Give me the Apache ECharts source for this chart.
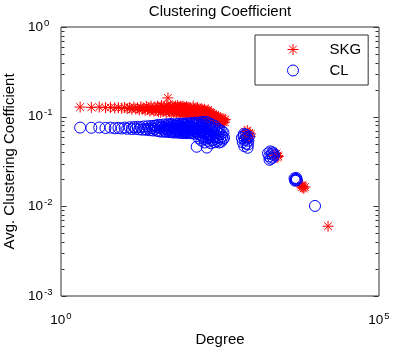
<!DOCTYPE html>
<html>
<head>
<meta charset="utf-8">
<script src="https://cdn.jsdelivr.net/npm/echarts@6/dist/echarts.min.js"></script>
<style>html,body{margin:0;padding:0;background:#fff;}#c{width:419px;height:349px;}</style>
</head>
<body>
<div id="c"></div>
<script>
// ---- data ----
const skgX = [2,3,4,5,6,7,8,9,10,11,12,13,14,15,16,17,18,19,20,21,22,23,24,25,26,27,28,29,
  30,31,32,33,34,35,36,37,38,39,40,41,42,43,44,45,46,47,48,49,50,51,52,53,54,55,56,57,58,59,60,
  61,62,63,64,65,66,67,68,69,70,71,72,73,74,75,76,77,78,79,80,81,82,83,84,85,86,87,88,89,90,
  91,92,93,94,95,96,97,98,99,100,
  102,104,106,108,110,112,114,116,118,120,122,124,126,128,130,132,134,136,138,140,142,144,146,148,150,
  152,154,156,158,160,162,164,166,168,170,172,174,176,178,180,182,184,186,188,190,192,194,196,198,200,
  203,206,209,212,215,218,221,224,227,230,234,238,242,246,250,254,258,262,266,270,275,280,285,290,295,
  300,306,312,318,324,330,337,344,351,358,366,374,382,
  780,820,850,880,910,940,800,960,870,
  2150,2450,2550,2600,2500,
  5940,6150,6380,6550,6860,6250,
  15800];
const skgY = [.128,.127,.128,.126,.127,.125,.126,.124,.127,.123,.126,.121,.128,.122,.125,.119,.129,.121,.124,.118,.130,.120,.126,.116,.131,.119,.124,.115,
  .128,.117,.124,.131,.114,.121,.127,.112,.133,.119,.125,.115,.130,.118,.122,.111,.134,.120,.162,.116,.127,.113,.123,.129,.110,.121,.132,.117,.125,.112,.128,
  .119,.114,.131,.122,.110,.126,.118,.133,.113,.120,.127,.109,.124,.116,.130,.111,.121,.128,.114,.119,.125,.108,.131,.117,.122,.112,.127,.115,.120,.109,
  .126,.118,.113,.129,.110,.121,.124,.107,.116,.127,
  .112,.120,.106,.125,.115,.109,.122,.104,.117,.131,.110,.119,.103,.124,.113,.107,.121,.102,.116,.126,.108,.114,.101,.122,.111,
  .105,.118,.100,.113,.123,.106,.115,.099,.119,.109,.103,.116,.098,.111,.121,.104,.113,.097,.108,.117,.101,.110,.096,.106,.114,
  .100,.119,.094,.108,.099,.113,.092,.104,.097,.110,.091,.102,.095,.107,.089,.099,.093,.104,.088,.097,.092,.101,.087,.096,.090,
  .099,.086,.094,.089,.097,.085,.092,.088,.095,.086,.091,.087,.093,
  .068,.064,.070,.062,.066,.060,.058,.064,.057,
  .037,.039,.037,.036,.035,
  .0170,.0163,.0166,.0159,.0164,.0172,
  .0060];
const clX = [2,3,4,5,6,7,8,9,10,11,12,13,14,15,16,17,18,19,20,21,22,23,24,25,26,27,28,29,
  30,31,32,33,34,35,36,37,38,39,40,41,42,43,44,45,46,47,48,49,50,51,52,53,54,55,56,57,58,59,60,
  61,62,63,64,65,66,67,68,69,70,71,72,73,74,75,76,77,78,79,80,81,82,83,84,85,86,87,88,89,90,
  91,92,93,94,95,96,97,98,99,100,
  102,104,106,108,110,112,114,116,118,120,122,124,126,128,130,132,134,136,138,140,142,144,146,148,150,
  152,154,156,158,160,162,164,166,168,170,172,174,176,178,180,182,184,186,188,190,192,194,196,198,200,
  203,206,209,212,215,218,221,224,227,230,234,238,242,246,250,254,258,262,266,270,275,280,285,290,295,
  300,306,312,318,324,330,337,344,351,358,366,
  700,720,740,760,780,800,820,840,860,880,900,750,830,870,
  1800,1880,1950,2000,2050,2100,2150,2250,1900,2200,
  4700,4850,4950,5100,5000,4800,
  9860];
const clY = [.0755,.0752,.0757,.0748,.0754,.0742,.0750,.0738,.0756,.0733,.0761,.0728,.0766,.0731,.0771,.0722,.0764,.0716,.0777,.0725,.0713,.0781,.0735,.0706,.0786,.0744,.0701,.0790,
  .0729,.0795,.0697,.0760,.0812,.0688,.0748,.0803,.0680,.0770,.0722,.0818,.0692,.0755,.0676,.0798,.0735,.0825,.0684,.0762,.0710,.0808,.0671,.0745,.0830,.0699,.0778,.0667,.0815,.0728,.0690,
  .0787,.0752,.0664,.0822,.0716,.0795,.0678,.0740,.0835,.0694,.0769,.0661,.0806,.0725,.0683,.0790,.0747,.0658,.0827,.0706,.0772,.0670,.0840,.0733,.0687,.0800,.0656,.0758,.0820,.0696,
  .0741,.0662,.0812,.0720,.0783,.0673,.0845,.0702,.0766,.0654,
  .0745,.0820,.0668,.0790,.0712,.0850,.0652,.0770,.0728,.0835,.0685,.0756,.0648,.0810,.0700,.0858,.0735,.0462,.0662,.0795,.0718,.0842,.0640,.0570,.0765,
  .0690,.0865,.0625,.0748,.0815,.0540,.0676,.0782,.0612,.0870,.0705,.0588,.0760,.0650,.0848,.0515,.0726,.0600,.0805,.0668,.0555,.0875,.0452,.0738,.0630,
  .0790,.0575,.0695,.0528,.0842,.0640,.0598,.0760,.0505,.0710,.0622,.0815,.0548,.0676,.0590,.0745,.0520,.0658,.0785,.0565,.0700,.0610,.0535,.0730,.0585,
  .0660,.0515,.0705,.0570,.0640,.0525,.0690,.0600,.0555,.0665,.0580,
  .058,.052,.061,.047,.055,.063,.050,.057,.045,.054,.060,.064,.059,.049,
  .039,.036,.041,.034,.038,.040,.035,.037,.033,.039,
  .0205,.0198,.0202,.0196,.0207,.0193,
  .0101];
const xTickExps = [0, 5];          // labelled decades on x
const yTickExps = [-3, -2, -1, 0]; // labelled decades on y
const xRange = [1, 100000];
const yRange = [0.001, 1];

// ---- build ----
const skgData = skgX.map((x, i) => [x, skgY[i]]);
const clData = clX.map((x, i) => [x, clY[i]]);
const tickData = [];
yTickExps.forEach(e => {
  tickData.push([xRange[0], Math.pow(10, e), 1]);
  if (e < 0) for (let m = 2; m <= 9; m++) tickData.push([xRange[0], m * Math.pow(10, e), 0]);
});
const FONT = '"Liberation Sans", Arial, Helvetica, sans-serif';
const starPath = 'path://M5 0L5 10M0 5L10 5M1.5 1.5L8.5 8.5M1.5 8.5L8.5 1.5';
const expLabel = v => '{b|10}{s|' + Math.round(Math.log10(v)) + '}';
const rich = {
  b: { fontSize: 13.5, lineHeight: 18, fontFamily: FONT, color: '#000' },
  s: { fontSize: 9.5, lineHeight: 4, verticalAlign: 'top', fontFamily: FONT, color: '#000', padding: [0, 0, 0, 1] }
};

const chart = echarts.init(document.getElementById('c'), null, { renderer: 'canvas' });
chart.setOption({
  animation: false,
  backgroundColor: '#fff',
  title: {
    text: 'Clustering Coefficient', left: 220, top: 4, textAlign: 'center', padding: 0,
    textStyle: { fontSize: 15, fontWeight: 'normal', color: '#000', fontFamily: FONT }
  },
  grid: {
    left: 61, right: 40, top: 27, bottom: 53, outerBoundsMode: 'none', containLabel: false,
    show: true, borderColor: '#333', borderWidth: 1, backgroundColor: '#fff'
  },
  xAxis: {
    type: 'log', logBase: 10, min: xRange[0], max: xRange[1],
    name: 'Degree', nameLocation: 'middle', nameGap: 35,
    nameTextStyle: { fontSize: 15, color: '#000', fontFamily: FONT },
    axisLine: { show: false }, axisTick: { show: false }, splitLine: { show: false },
    axisLabel: {
      margin: 15, showMinLabel: true, showMaxLabel: true,
      formatter: v => (xTickExps.indexOf(Math.round(Math.log10(v))) >= 0 ? expLabel(v) : ''),
      rich: rich
    }
  },
  yAxis: {
    type: 'log', logBase: 10, min: yRange[0], max: yRange[1],
    name: 'Avg. Clustering Coefficient', nameLocation: 'middle', nameGap: 41,
    nameTextStyle: { fontSize: 15, color: '#000', fontFamily: FONT },
    axisLine: { show: false }, axisTick: { show: false }, splitLine: { show: false },
    axisLabel: {
      margin: 33, align: 'left', showMinLabel: true, showMaxLabel: true,
      formatter: v => (yTickExps.indexOf(Math.round(Math.log10(v))) >= 0 ? expLabel(v) : ''),
      rich: rich
    }
  },
  legend: {
    data: ['SKG', 'CL'], orient: 'vertical', left: 255, top: 35,
    padding: [7, 7, 7, 32], itemWidth: 11, itemHeight: 12, itemGap: 6,
    borderColor: '#333', borderWidth: 1, backgroundColor: '#fff',
    itemStyle: { borderWidth: 1 },
    textStyle: { fontSize: 15, color: '#000', fontFamily: FONT, padding: [0, 0, 0, 26], lineHeight: 12 }
  },
  series: [
    {
      type: 'custom', silent: true, z: 1,
      data: tickData,
      renderItem: (params, api) => {
        const v = api.value(1);
        const len = api.value(2) ? 5 : 3;
        const pL = api.coord([xRange[0], v]);
        const pR = api.coord([xRange[1], v]);
        const y = Math.round(pL[1]) + 0.5;
        const xl = Math.round(pL[0]) + 0.5, xr = Math.round(pR[0]) - 0.5;
        return { type: 'group', children: [
          { type: 'line', shape: { x1: xl, y1: y, x2: xl + len, y2: y }, style: { stroke: '#333', lineWidth: 1 } },
          { type: 'line', shape: { x1: xr - len, y1: y, x2: xr, y2: y }, style: { stroke: '#333', lineWidth: 1 } }
        ]};
      }
    },
    {
      name: 'SKG', type: 'scatter', data: skgData, symbol: starPath, symbolSize: 11, z: 2,
      itemStyle: { color: '#ff0000', borderColor: '#ff0000', borderWidth: 1, opacity: 1 }
    },
    {
      name: 'CL', type: 'scatter', data: clData, symbol: 'circle', symbolSize: 11, z: 3,
      itemStyle: { color: 'rgba(0,0,0,0)', borderColor: '#0000ff', borderWidth: 1, opacity: 1 }
    }
  ]
});
</script>
</body>
</html>
